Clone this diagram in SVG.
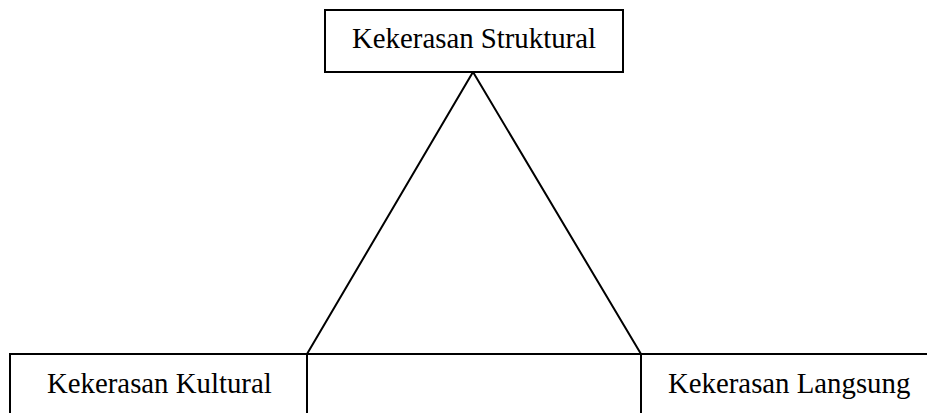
<svg xmlns="http://www.w3.org/2000/svg" width="927" height="413" viewBox="0 0 927 413">
<style>
.box{fill:#fff;stroke:#000;stroke-width:2}
.ln{fill:none;stroke:#000;stroke-width:2}
text{font-family:"Liberation Serif","Times New Roman",serif;font-size:28.8px;fill:#000}
</style>
<rect width="927" height="413" fill="#fff"/>
<g id="connectors">
<path class="ln" d="M307,354 L473,72 L641,354"/>
</g>
<g id="kultural">
<rect class="box" x="10" y="354" width="297" height="70"/>
<text x="47" y="393">Kekerasan Kultural</text>
</g>
<g id="middle">
<rect class="box" x="307" y="354" width="334" height="70"/>
</g>
<g id="langsung">
<rect class="box" x="641" y="354" width="300" height="70"/>
<text x="668" y="393">Kekerasan Langsung</text>
</g>
<g id="struktural">
<rect class="box" x="325" y="10" width="298" height="62"/>
<text x="474" y="48" text-anchor="middle">Kekerasan Struktural</text>
</g>
</svg>
